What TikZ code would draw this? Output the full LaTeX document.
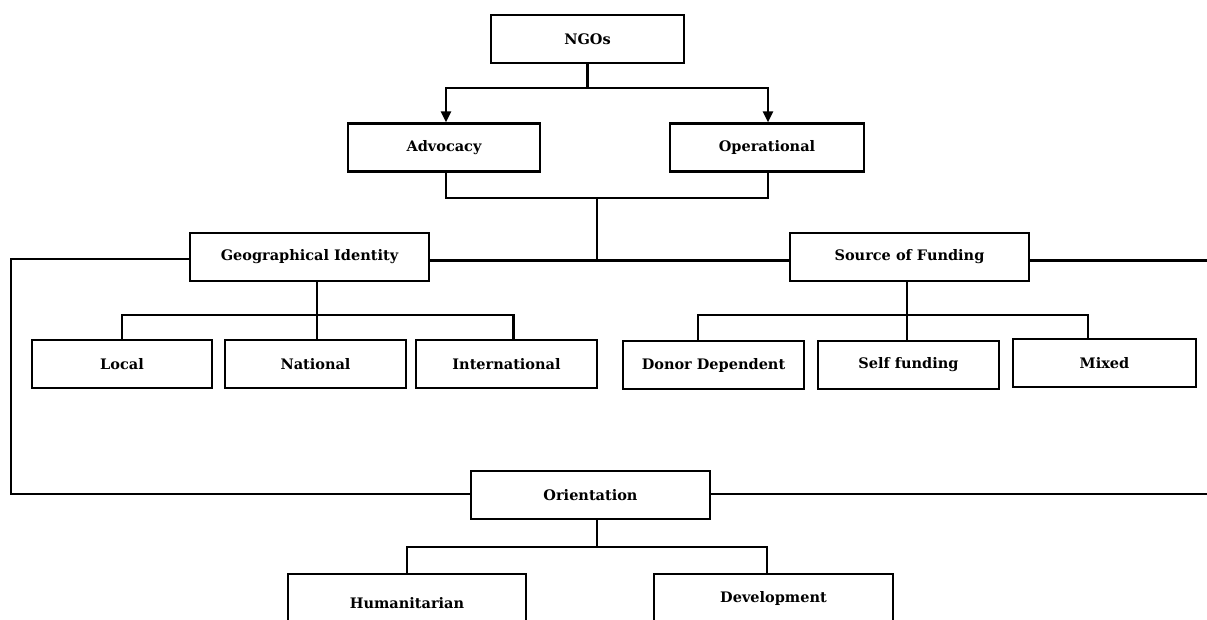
\documentclass[tikz,border=0pt]{standalone}
\usepackage{fontspec}
\setmainfont{DejaVu Serif}
\usetikzlibrary{arrows.meta}
\begin{document}
\begin{tikzpicture}[x=1pt,y=-1pt,
  box/.style={draw=black, line width=2.2pt, inner sep=0pt, fill=white,
    minimum height=48pt, font=\fontsize{14.5}{16}\selectfont\bfseries},
  link/.style={line width=2.2pt},
  tip/.style={-{Triangle[length=11pt,width=10pt]}}
]
\useasboundingbox (0,0) rectangle (1207,619);
\clip (0,0) rectangle (1207,619);

% top levels
\node[box, minimum width=193pt] (ngo) at (587.5,39) {NGOs};
\node[box, minimum width=192pt] (adv) at (444,147.5) {Advocacy};
\node[box, minimum width=194pt] (ops) at (767,147.5) {Operational};

% second level
\node[box, minimum width=239pt] (geo) at (309.5,257) {Geographical Identity};
\node[box, minimum width=239pt] (fund) at (909.5,257) {Source of Funding};

% geographical categories
\node[box, minimum width=180pt] (local) at (122,364) {Local};
\node[box, minimum width=181pt] (natl) at (315.5,364) {National};
\node[box, minimum width=181pt] (intl) at (506.5,364) {International};

% funding categories
\node[box, minimum width=181pt] (donor) at (713.5,365) {Donor Dependent};
\node[box, minimum width=181pt] (self) at (908.5,365) {Self funding};
\node[box, minimum width=183pt] (mixed) at (1104.5,363) {Mixed};

% orientation
\node[box, minimum width=239pt] (orient) at (590.5,495) {Orientation};
\node[box, minimum width=238pt, minimum height=0pt, anchor=north,
      text height=34pt, text depth=32pt] (hum) at (407,573) {Humanitarian};
\node[box, minimum width=239pt, minimum height=0pt, anchor=north,
      text height=28pt, text depth=38pt] (dev) at (773.5,573) {Development};

% junction points
\coordinate (split) at (586,88);
\coordinate (merge) at (597,198);
\coordinate (leftrail) at (11,400);
\coordinate (rightedge) at (1212,0);
\coordinate (geobar) at (0,315);
\coordinate (fundbar) at (0,315);
\coordinate (orbar) at (0,547);
\coordinate (geoR) at ([yshift=-3.5pt]geo.east);
\coordinate (geoL) at ([yshift=-2pt]geo.west);
\coordinate (fundL) at ([yshift=-3.5pt]fund.west);
\coordinate (fundR) at ([yshift=-3.5pt]fund.east);
\coordinate (orL) at ([yshift=1pt]orient.west);
\coordinate (orR) at ([yshift=1pt]orient.east);

% NGOs to its two types
\draw[link] (ngo.south) -- (ngo.south |- split);
\draw[link, tip] (ngo.south |- split) -| ([xshift=2pt]adv.north);
\draw[link, tip] (ngo.south |- split) -| ([xshift=1pt]ops.north);

% types merge into the classification line
\draw[link] ([xshift=2pt]adv.south) |- (merge) -| ([xshift=1pt]ops.south);
\draw[link] (merge) -- (merge |- geoR);
\draw[link] (geoR) -- (fundL);
\draw[link] (geoL) -| (leftrail) |- (orL);
\draw[link] (fundR) -- (fundR -| rightedge);
\draw[link] (orR) -- (orR -| rightedge);

% geographical identity branches
\draw[link] ([xshift=1.5pt]natl.north) -- ([xshift=1.5pt]natl.north |- geo.south);
\draw[link] (local.north) |- (local.north |- geobar) -| ([xshift=7pt]intl.north);

% funding branches
\draw[link] ([xshift=-1.5pt]self.north) -- ([xshift=-1.5pt]self.north |- fund.south);
\draw[link] ([xshift=-15.5pt]donor.north) |- ([xshift=-15.5pt]donor.north |- fundbar) -| ([xshift=-16.5pt]mixed.north);

% orientation branches
\draw[link, line width=1.7pt] ([xshift=6.5pt]orient.south) -- ([xshift=6.5pt]orient.south |- orbar);
\draw[link] (hum.north) |- (hum.north |- orbar) -| ([xshift=-6.5pt]dev.north);
\end{tikzpicture}
\end{document}
